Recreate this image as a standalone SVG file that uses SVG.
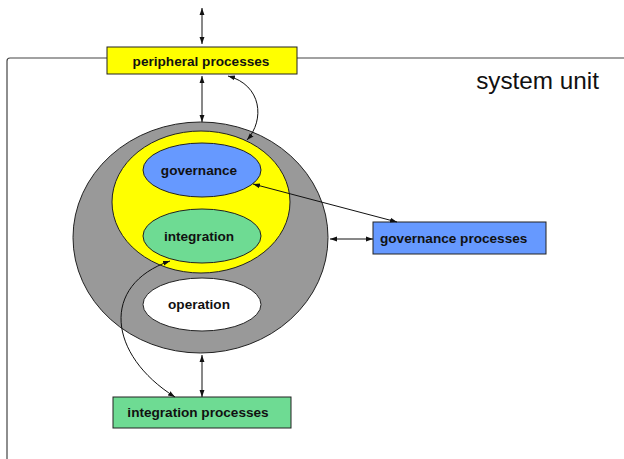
<svg xmlns="http://www.w3.org/2000/svg" width="624" height="459" viewBox="0 0 624 459">
  <style>
    .box { stroke: #222; stroke-width: 1; }
    .lbl { font-family: "Liberation Sans", Arial, sans-serif; font-weight: bold; font-size: 13.6px; fill: #111; }
    .conn { fill: none; stroke: #111; stroke-width: 1; }
  </style>
  <defs>
    <marker id="arr" viewBox="0 0 10 10" refX="10" refY="5" markerWidth="7" markerHeight="7" markerUnits="userSpaceOnUse" orient="auto-start-reverse">
      <path d="M0,1.5 L10,5 L0,8.5 z" fill="#111"/>
    </marker>
  </defs>

  <rect width="624" height="459" fill="#fff"/>

  <!-- system unit frame -->
  <g id="system-unit">
    <path d="M7,459 V61 Q7,58 10,58 H624" fill="none" stroke="#444" stroke-width="1.2"/>
    <text x="599" y="89" text-anchor="end" font-family="'Liberation Sans', Arial, sans-serif" font-size="24.3" fill="#111">system unit</text>
  </g>

  <!-- nested core: gray outer, yellow, and the three inner areas -->
  <g id="core">
    <ellipse cx="200.5" cy="237.5" rx="127.5" ry="115.5" fill="#999999" class="box"/>
  </g>
  <g id="control">
    <ellipse cx="201" cy="202" rx="89" ry="71" fill="#FFFF00" class="box"/>
  </g>
  <g id="governance">
    <ellipse cx="202" cy="170" rx="59" ry="27" fill="#6699FF" class="box"/>
    <text x="199" y="175" text-anchor="middle" class="lbl">governance</text>
  </g>
  <g id="integration">
    <ellipse cx="202" cy="236" rx="59" ry="27" fill="#6EDB93" class="box"/>
    <text x="199" y="241" text-anchor="middle" class="lbl">integration</text>
  </g>
  <g id="operation">
    <ellipse cx="202" cy="304.5" rx="59" ry="26.5" fill="#FFFFFF" class="box"/>
    <text x="199" y="309" text-anchor="middle" class="lbl">operation</text>
  </g>

  <!-- process boxes -->
  <g id="peripheral-processes">
    <rect x="107" y="47" width="190" height="27" fill="#FFFF00" class="box"/>
    <text x="201" y="66" text-anchor="middle" class="lbl">peripheral processes</text>
  </g>
  <g id="governance-processes">
    <rect x="373" y="222" width="173" height="32" fill="#6699FF" class="box"/>
    <text x="380" y="243" class="lbl">governance processes</text>
  </g>
  <g id="integration-processes">
    <rect x="113" y="397" width="178" height="31" fill="#6EDB93" class="box"/>
    <text x="198" y="417" text-anchor="middle" class="lbl">integration processes</text>
  </g>

  <!-- connectors -->
  <g id="connectors" class="conn">
    <line x1="202" y1="8" x2="202" y2="44" class="conn" marker-start="url(#arr)" marker-end="url(#arr)"/>
    <line x1="202" y1="76" x2="202" y2="122" class="conn" marker-start="url(#arr)" marker-end="url(#arr)"/>
    <path d="M228,76 C262,85 265,120 247,140" class="conn" marker-start="url(#arr)" marker-end="url(#arr)"/>
    <line x1="330" y1="239" x2="373" y2="239" class="conn" marker-start="url(#arr)" marker-end="url(#arr)"/>
    <line x1="253" y1="184" x2="397" y2="222" class="conn" marker-start="url(#arr)" marker-end="url(#arr)"/>
    <line x1="202" y1="355" x2="202" y2="397" class="conn" marker-start="url(#arr)" marker-end="url(#arr)"/>
    <path d="M170,261 C100,285 108,355 175,397" class="conn" marker-start="url(#arr)" marker-end="url(#arr)"/>
  </g>
</svg>
